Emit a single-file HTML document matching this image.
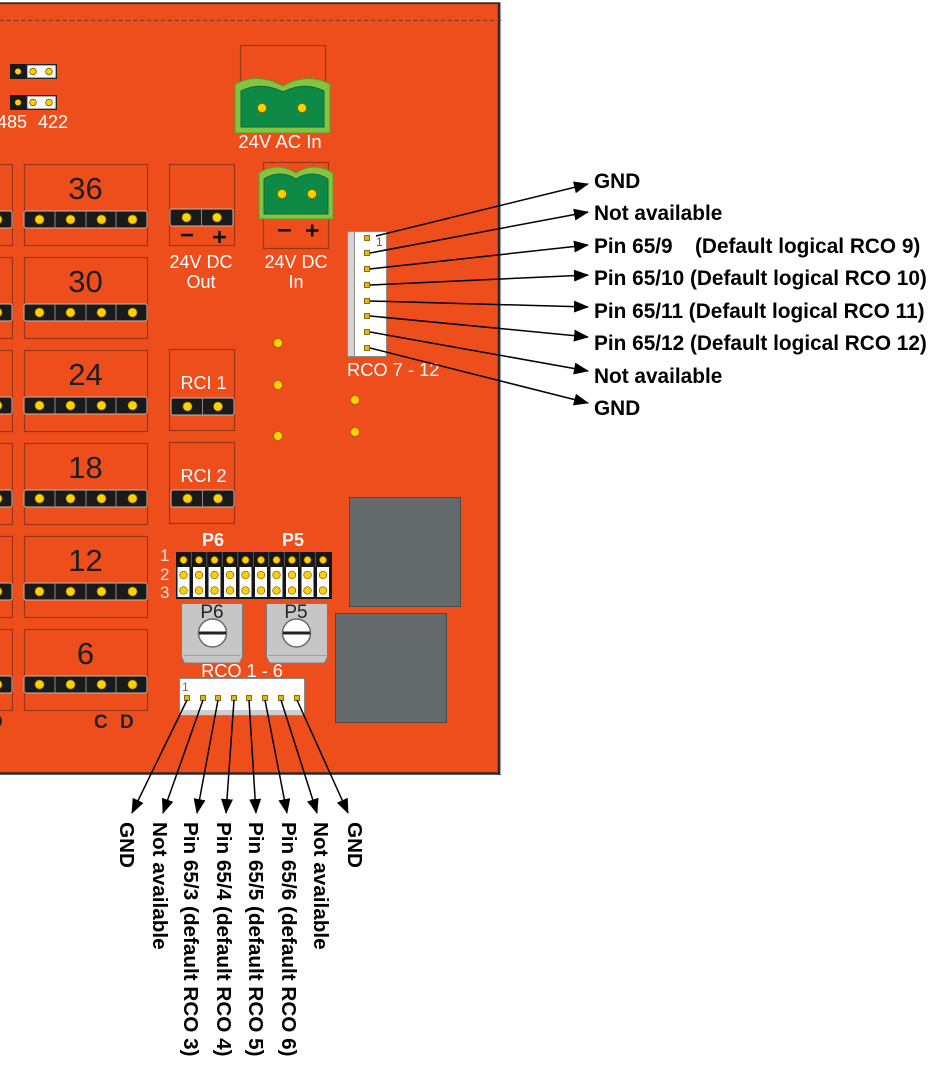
<!DOCTYPE html>
<html><head><meta charset="utf-8"><style>
html,body{margin:0;padding:0;background:#fff;}
svg{display:block;}
text{font-family:"Liberation Sans",Arial,sans-serif;}
</style></head><body>
<svg width="941" height="1072" viewBox="0 0 941 1072" xmlns="http://www.w3.org/2000/svg">
<defs>
<marker id="ar" markerWidth="15" markerHeight="12" refX="14" refY="6" orient="auto" markerUnits="userSpaceOnUse"><path d="M0,0 L15,6 L0,12 z" fill="#000"/></marker>
<g id="strip">
<rect x="0" y="0" width="123" height="17" rx="2" fill="#1a1a1a" stroke="#c9b5aa" stroke-width="1"/>
<line x1="31" y1="0" x2="31" y2="17" stroke="#8a8a8a" stroke-width="1"/>
<line x1="62" y1="0" x2="62" y2="17" stroke="#8a8a8a" stroke-width="1"/>
<line x1="92" y1="0" x2="92" y2="17" stroke="#8a8a8a" stroke-width="1"/>
<circle cx="15.5" cy="8.5" r="4.6" fill="#FFD000" stroke="#7a5a00" stroke-width="0.6"/>
<circle cx="46.5" cy="8.5" r="4.6" fill="#FFD000" stroke="#7a5a00" stroke-width="0.6"/>
<circle cx="77.5" cy="8.5" r="4.6" fill="#FFD000" stroke="#7a5a00" stroke-width="0.6"/>
<circle cx="108.5" cy="8.5" r="4.6" fill="#FFD000" stroke="#7a5a00" stroke-width="0.6"/>
</g>
<g id="strip2">
<rect x="0" y="0" width="63" height="17" rx="2" fill="#1a1a1a" stroke="#c9b5aa" stroke-width="1"/>
<line x1="31.5" y1="0" x2="31.5" y2="17" stroke="#8a8a8a" stroke-width="1"/>
<circle cx="16.5" cy="8.5" r="4.6" fill="#FFD000" stroke="#7a5a00" stroke-width="0.6"/>
<circle cx="47" cy="8.5" r="4.6" fill="#FFD000" stroke="#7a5a00" stroke-width="0.6"/>
</g>
<g id="box">
<rect x="0.5" y="0.5" width="123" height="81" fill="none" stroke="#9B3417" stroke-width="1.2"/>
<use href="#strip" x="0" y="47"/>
</g>
<g id="pin5"><rect x="-2.5" y="-2.5" width="5" height="5" fill="#E8B800" stroke="#6b5000" stroke-width="0.8"/></g>
<g id="via"><circle r="4.5" fill="#FFD000" stroke="#8a6a00" stroke-width="0.8"/></g>
</defs>

<!-- board -->
<rect x="0" y="3" width="499" height="771" fill="#EE4E1C"/>
<line x1="0" y1="3.2" x2="500" y2="3.2" stroke="#333" stroke-width="1.8"/>
<line x1="499" y1="2.5" x2="499" y2="775" stroke="#2a2a2a" stroke-width="2.5"/>
<line x1="0" y1="773.5" x2="500" y2="773.5" stroke="#2a2a2a" stroke-width="2.5"/>
<line x1="500.8" y1="2" x2="500.8" y2="776" stroke="#b8b0d8" stroke-width="0.8"/>
<line x1="0" y1="20.5" x2="503" y2="20.5" stroke="#7a3318" stroke-width="1" stroke-dasharray="4 3"/>

<!-- top-left jumpers -->
<rect x="10" y="64" width="47" height="15" fill="#1a1a1a"/>
<rect x="27" y="65" width="29" height="13" fill="#fff" stroke="#333" stroke-width="0.8"/>
<circle cx="18" cy="71.5" r="3" fill="#FFD000"/>
<circle cx="33" cy="71.5" r="3.3" fill="#FFD000" stroke="#7a5a00" stroke-width="0.8"/>
<circle cx="49" cy="71.5" r="3.3" fill="#FFD000" stroke="#7a5a00" stroke-width="0.8"/>
<rect x="10" y="95" width="47" height="15" fill="#1a1a1a"/>
<rect x="27" y="96" width="29" height="13" fill="#fff" stroke="#333" stroke-width="0.8"/>
<circle cx="18" cy="102.5" r="3" fill="#FFD000"/>
<circle cx="33" cy="102.5" r="3.3" fill="#FFD000" stroke="#7a5a00" stroke-width="0.8"/>
<circle cx="49" cy="102.5" r="3.3" fill="#FFD000" stroke="#7a5a00" stroke-width="0.8"/>
<text x="-3" y="128" font-size="18" fill="#fff">485</text>
<text x="38" y="128" font-size="18" fill="#fff">422</text>

<!-- 24V AC In -->
<rect x="240.5" y="45.5" width="85" height="60" fill="none" stroke="#9B3417" stroke-width="1.2"/>
<path d="M235,84 Q258,72 283,86 Q306,72 330,84 L330,133 L235,133 Z" fill="#85C441" stroke="#5E9A2C" stroke-width="1"/>
<path d="M241,91 Q262,81 283,92 Q304,81 324,91 L324,127 L241,127 Z" fill="#0E8A46" stroke="#0a6a36" stroke-width="1"/>
<use href="#via" x="262" y="108"/>
<use href="#via" x="302" y="108"/>
<text x="280" y="148" font-size="18.5" fill="#fff" text-anchor="middle">24V AC In</text>

<!-- box grid -->
<use href="#box" x="-111" y="164"/><use href="#box" x="24" y="164"/>
<use href="#box" x="-111" y="257"/><use href="#box" x="24" y="257"/>
<use href="#box" x="-111" y="350"/><use href="#box" x="24" y="350"/>
<use href="#box" x="-111" y="443"/><use href="#box" x="24" y="443"/>
<use href="#box" x="-111" y="536"/><use href="#box" x="24" y="536"/>
<use href="#box" x="-111" y="629"/><use href="#box" x="24" y="629"/>
<g font-size="31" fill="#1d1d1d" text-anchor="middle">
<text x="85.5" y="199">36</text>
<text x="85.5" y="292">30</text>
<text x="85.5" y="385">24</text>
<text x="85.5" y="478">18</text>
<text x="85.5" y="571">12</text>
<text x="85.5" y="664">6</text>
</g>
<g font-size="19" font-weight="bold" fill="#222">
<text x="94" y="728">C</text>
<text x="120" y="728">D</text>
<text x="-11" y="728">D</text>
</g>

<!-- 24V DC Out -->
<rect x="169.5" y="164.5" width="65" height="81" fill="none" stroke="#9B3417" stroke-width="1.2"/>
<use href="#strip2" x="170" y="209"/>
<rect x="181" y="233.8" width="12" height="2.6" fill="#111"/>
<rect x="213" y="235.8" width="13" height="2.6" fill="#111"/>
<rect x="218.2" y="231" width="2.6" height="12" fill="#111"/>
<text x="201" y="268" font-size="18" fill="#fff" text-anchor="middle">24V DC</text>
<text x="201" y="288" font-size="18" fill="#fff" text-anchor="middle">Out</text>

<!-- 24V DC In -->
<rect x="263.5" y="162.5" width="65" height="86" fill="none" stroke="#9B3417" stroke-width="1.2"/>
<path d="M259,173 Q277,161 296,173 Q314,161 333,173 L333,219 L259,219 Z" fill="#85C441" stroke="#5E9A2C" stroke-width="1"/>
<path d="M264,179 Q280,169 296,179 Q312,169 328,179 L328,214 L264,214 Z" fill="#0E8A46" stroke="#0a6a36" stroke-width="1"/>
<use href="#via" x="282" y="194"/>
<use href="#via" x="312" y="194"/>
<rect x="278" y="229" width="13" height="2.6" fill="#111"/>
<rect x="306" y="229.2" width="12.5" height="2.6" fill="#111"/>
<rect x="310.9" y="224.5" width="2.6" height="12" fill="#111"/>
<text x="296" y="268" font-size="18" fill="#fff" text-anchor="middle">24V DC</text>
<text x="296" y="288" font-size="18" fill="#fff" text-anchor="middle">In</text>

<!-- RCI boxes -->
<rect x="169.5" y="349.5" width="65" height="81" fill="none" stroke="#9B3417" stroke-width="1.2"/>
<text x="203.5" y="389" font-size="18" fill="#fff" text-anchor="middle">RCI 1</text>
<use href="#strip2" x="171" y="398"/>
<rect x="169.5" y="442.5" width="65" height="81" fill="none" stroke="#9B3417" stroke-width="1.2"/>
<text x="203.5" y="482" font-size="18" fill="#fff" text-anchor="middle">RCI 2</text>
<use href="#strip2" x="171" y="490"/>

<!-- vias -->
<use href="#via" x="278" y="343"/>
<use href="#via" x="278" y="385"/>
<use href="#via" x="278" y="436"/>
<use href="#via" x="355" y="400"/>
<use href="#via" x="355" y="432"/>

<!-- RCO 7-12 connector -->
<rect x="347.5" y="231.5" width="39" height="125" fill="#fff" stroke="#8a8a8a" stroke-width="1"/>
<rect x="347.5" y="231.5" width="7" height="125" fill="#d5d5d5" stroke="#8a8a8a" stroke-width="1"/>
<text x="376" y="246" font-size="12" fill="#555">1</text>
<use href="#pin5" x="367" y="238"/>
<use href="#pin5" x="367" y="253"/>
<use href="#pin5" x="367" y="269"/>
<use href="#pin5" x="367" y="285"/>
<use href="#pin5" x="367" y="301"/>
<use href="#pin5" x="367" y="316"/>
<use href="#pin5" x="367" y="332"/>
<use href="#pin5" x="367" y="348"/>
<text x="347" y="376" font-size="18.3" fill="#fff">RCO 7 - 12</text>

<!-- gray blocks -->
<rect x="349.5" y="497.5" width="111" height="109" fill="#646A6C" stroke="#4a4a4a" stroke-width="1"/>
<rect x="335.5" y="613.5" width="111" height="109" fill="#646A6C" stroke="#4a4a4a" stroke-width="1"/>

<!-- P6 / P5 header -->
<text x="213" y="546" font-size="18" font-weight="bold" fill="#fff" text-anchor="middle">P6</text>
<text x="293" y="546" font-size="18" font-weight="bold" fill="#fff" text-anchor="middle">P5</text>
<g font-size="17" fill="#fbe3d8">
<text x="160" y="561">1</text>
<text x="160" y="580">2</text>
<text x="160" y="598">3</text>
</g>
<rect x="176" y="552" width="156" height="47" fill="#161616"/>
<g stroke="#666" stroke-width="0.8">
<line x1="191.3" y1="552" x2="191.3" y2="567"/><line x1="206.8" y1="552" x2="206.8" y2="567"/>
<line x1="222.3" y1="552" x2="222.3" y2="567"/><line x1="237.8" y1="552" x2="237.8" y2="567"/>
<line x1="253.3" y1="552" x2="253.3" y2="567"/><line x1="268.8" y1="552" x2="268.8" y2="567"/>
<line x1="284.3" y1="552" x2="284.3" y2="567"/><line x1="299.8" y1="552" x2="299.8" y2="567"/>
<line x1="315.3" y1="552" x2="315.3" y2="567"/>
</g>
<g fill="#fff">
<rect x="177.5" y="567" width="12" height="30"/><rect x="193" y="567" width="12" height="30"/>
<rect x="208.5" y="567" width="12" height="30"/><rect x="224" y="567" width="12" height="30"/>
<rect x="239.5" y="567" width="12" height="30"/><rect x="255" y="567" width="12" height="30"/>
<rect x="270.5" y="567" width="12" height="30"/><rect x="286" y="567" width="12" height="30"/>
<rect x="301.5" y="567" width="12" height="30"/><rect x="317" y="567" width="12" height="30"/>
</g>
<g fill="#FFD000" stroke="#7a5a00" stroke-width="0.7">
<circle cx="183.5" cy="560" r="3.6"/><circle cx="199" cy="560" r="3.6"/><circle cx="214.5" cy="560" r="3.6"/><circle cx="230" cy="560" r="3.6"/><circle cx="245.5" cy="560" r="3.6"/><circle cx="261" cy="560" r="3.6"/><circle cx="276.5" cy="560" r="3.6"/><circle cx="292" cy="560" r="3.6"/><circle cx="307.5" cy="560" r="3.6"/><circle cx="323" cy="560" r="3.6"/>
<circle cx="183.5" cy="575" r="3.8"/><circle cx="199" cy="575" r="3.8"/><circle cx="214.5" cy="575" r="3.8"/><circle cx="230" cy="575" r="3.8"/><circle cx="245.5" cy="575" r="3.8"/><circle cx="261" cy="575" r="3.8"/><circle cx="276.5" cy="575" r="3.8"/><circle cx="292" cy="575" r="3.8"/><circle cx="307.5" cy="575" r="3.8"/><circle cx="323" cy="575" r="3.8"/>
<circle cx="183.5" cy="590.5" r="3.8"/><circle cx="199" cy="590.5" r="3.8"/><circle cx="214.5" cy="590.5" r="3.8"/><circle cx="230" cy="590.5" r="3.8"/><circle cx="245.5" cy="590.5" r="3.8"/><circle cx="261" cy="590.5" r="3.8"/><circle cx="276.5" cy="590.5" r="3.8"/><circle cx="292" cy="590.5" r="3.8"/><circle cx="307.5" cy="590.5" r="3.8"/><circle cx="323" cy="590.5" r="3.8"/>
</g>

<!-- pots -->
<polygon points="181.5,603.5 242.5,603.5 242.5,657 239.5,663 184.5,663 181.5,657" fill="#C6C6C6" stroke="#7a7a7a" stroke-width="1"/>
<line x1="183" y1="655.5" x2="241" y2="655.5" stroke="#a0a0a0" stroke-width="1"/>
<circle cx="212.5" cy="633" r="14" fill="#fff" stroke="#6a6a6a" stroke-width="1.5"/>
<rect x="199" y="631.5" width="27" height="3" fill="#222"/>
<text x="212" y="618" font-size="19" fill="#222" text-anchor="middle">P6</text>
<polygon points="266.5,603.5 327.5,603.5 327.5,657 324.5,663 269.5,663 266.5,657" fill="#C6C6C6" stroke="#7a7a7a" stroke-width="1"/>
<line x1="268" y1="655.5" x2="326" y2="655.5" stroke="#a0a0a0" stroke-width="1"/>
<circle cx="296.5" cy="633" r="14" fill="#fff" stroke="#6a6a6a" stroke-width="1.5"/>
<rect x="283" y="631.5" width="27" height="3" fill="#222"/>
<text x="296" y="618" font-size="19" fill="#222" text-anchor="middle">P5</text>

<!-- RCO 1-6 connector -->
<text x="242" y="677" font-size="18.2" fill="#fff" text-anchor="middle">RCO 1 - 6</text>
<rect x="179.5" y="678.5" width="125" height="37" fill="#fff" stroke="#8a8a8a" stroke-width="1"/>
<rect x="181" y="710" width="122" height="5" fill="#cfcfcf"/>
<text x="182" y="691" font-size="12" fill="#666">1</text>
<use href="#pin5" x="187" y="698"/>
<use href="#pin5" x="203" y="698"/>
<use href="#pin5" x="218" y="698"/>
<use href="#pin5" x="234" y="698"/>
<use href="#pin5" x="249" y="698"/>
<use href="#pin5" x="265" y="698"/>
<use href="#pin5" x="281" y="698"/>
<use href="#pin5" x="297" y="698"/>

<!-- right arrows -->
<g stroke="#000" stroke-width="1.5" fill="none" marker-end="url(#ar)">
<line x1="376" y1="236" x2="588" y2="184"/>
<line x1="370" y1="253" x2="588" y2="212"/>
<line x1="370" y1="269" x2="588" y2="245"/>
<line x1="370" y1="285" x2="588" y2="275"/>
<line x1="370" y1="301" x2="588" y2="307"/>
<line x1="370" y1="316" x2="588" y2="337"/>
<line x1="370" y1="332" x2="588" y2="371"/>
<line x1="370" y1="348" x2="588" y2="403"/>
</g>
<g font-size="20.8" font-weight="bold" fill="#000">
<text x="594" y="188">GND</text>
<text x="594" y="220">Not available</text>
<text x="594" y="253">Pin 65/9</text>
<text x="695" y="253">(Default logical RCO 9)</text>
<text x="594" y="285">Pin 65/10 (Default logical RCO 10)</text>
<text x="594" y="318">Pin 65/11 (Default logical RCO 11)</text>
<text x="594" y="350">Pin 65/12 (Default logical RCO 12)</text>
<text x="594" y="383">Not available</text>
<text x="594" y="415">GND</text>
</g>

<!-- bottom arrows -->
<g stroke="#000" stroke-width="1.5" fill="none" marker-end="url(#ar)">
<line x1="187" y1="700" x2="132" y2="813"/>
<line x1="203" y1="700" x2="163" y2="813"/>
<line x1="218" y1="700" x2="197" y2="813"/>
<line x1="234" y1="700" x2="226" y2="813"/>
<line x1="249" y1="700" x2="256" y2="813"/>
<line x1="265" y1="700" x2="287" y2="813"/>
<line x1="281" y1="700" x2="317" y2="813"/>
<line x1="297" y1="700" x2="348" y2="813"/>
</g>
<g font-size="20.7" font-weight="bold" fill="#000">
<text x="120" y="822" transform="rotate(90 120 822)">GND</text>
<text x="153" y="822" transform="rotate(90 153 822)">Not available</text>
<text x="184" y="822" transform="rotate(90 184 822)">Pin 65/3 (default RCO 3)</text>
<text x="217" y="822" transform="rotate(90 217 822)">Pin 65/4 (default RCO 4)</text>
<text x="249" y="822" transform="rotate(90 249 822)">Pin 65/5 (default RCO 5)</text>
<text x="282" y="822" transform="rotate(90 282 822)">Pin 65/6 (default RCO 6)</text>
<text x="314" y="822" transform="rotate(90 314 822)">Not available</text>
<text x="348" y="822" transform="rotate(90 348 822)">GND</text>
</g>
</svg>
</body></html>
